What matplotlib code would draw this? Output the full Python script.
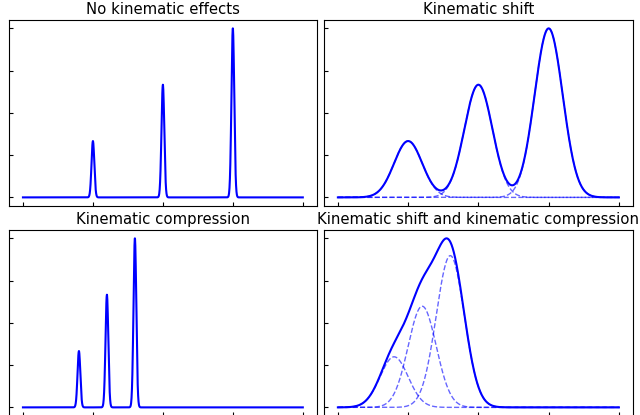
import numpy as np
import matplotlib
matplotlib.use("Agg")
from matplotlib import pyplot as plt

# peak parameters (x in tick units 0..4)
heights = [1 / 3, 2 / 3, 1.0]
centres_plain = [1.0, 2.0, 3.0]
centres_compressed = [0.8, 1.2, 1.6]
sigma_sharp = 0.02
sigma_broad = 0.2

titles = ["No kinematic effects", "Kinematic shift",
          "Kinematic compression", "Kinematic shift and kinematic compression"]

x = np.linspace(0, 4, 2001)


def gauss(centre, height, sigma):
    return height * np.exp(-(x - centre) ** 2 / (2 * sigma ** 2))


def draw(ax, centres, sigma, show_parts):
    parts = [gauss(c, h, sigma) for c, h in zip(centres, heights)]
    total = np.sum(parts, axis=0)
    scale = total.max()
    if show_parts:
        for p in parts:
            ax.plot(x, p / scale, '--', color='blue', alpha=0.6, lw=1)
    ax.plot(x, total / scale, color='blue', lw=1.5)


fig = plt.figure(figsize=(6.4, 4.15), dpi=100)
boxes = [[0.014, 0.504, 0.481, 0.448], [0.506, 0.504, 0.483, 0.448],
         [0.014, -0.002, 0.481, 0.448], [0.506, -0.002, 0.483, 0.448]]
setups = [(centres_plain, sigma_sharp, False), (centres_plain, sigma_broad, True),
          (centres_compressed, sigma_sharp, False), (centres_compressed, sigma_broad, True)]

for box, title, (centres, sigma, parts) in zip(boxes, titles, setups):
    ax = fig.add_axes(box)
    draw(ax, centres, sigma, parts)
    ax.set_title(title, fontsize=10.7, pad=4)
    ax.set_xticks([0, 1, 2, 3, 4])
    ax.set_yticks([0, 0.25, 0.5, 0.75, 1.0])
    ax.tick_params(direction='in', length=3, labelbottom=False, labelleft=False)

fig.savefig("out.png", dpi=100)
